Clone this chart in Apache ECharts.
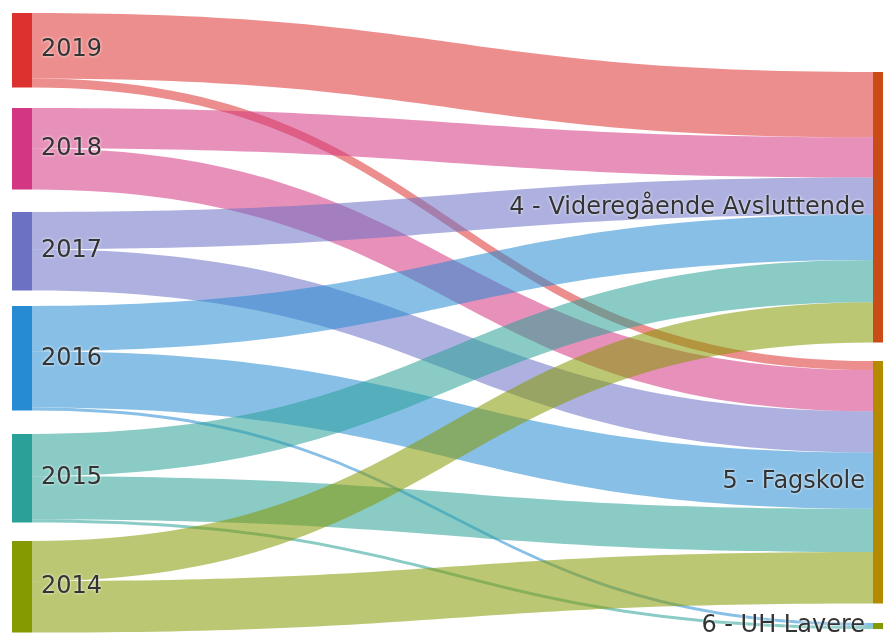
<!DOCTYPE html>
<html>
<head>
<meta charset="utf-8">
<style>
  html, body { margin: 0; padding: 0; background: #fff; }
  #main { width: 883px; height: 634px; }
</style>
<script src="https://cdn.jsdelivr.net/npm/echarts@6/dist/echarts.min.js"></script>
</head>
<body>
<div id="main"></div>
<script>
// years (left) and education levels (right)
var years = ['2019', '2018', '2017', '2016', '2015', '2014'];
var levels = ['4 - Videregående Avsluttende', '5 - Fagskole', '6 - UH Lavere'];

// flow from each year into each level, same order as levels
var flow2019 = [65, 9, 0];
var flow2018 = [40, 41, 0];
var flow2017 = [37, 41, 0];
var flow2016 = [45, 56, 3];
var flow2015 = [42, 43, 3];
var flow2014 = [40, 51, 0];

var yearColors = ['#dc322f', '#d33682', '#6c71c4', '#268bd2', '#2aa198', '#859900'];
var levelColors = ['#cb4b16', '#b58900', '#859900'];

// node tops as a share of the layout height, so the order stays as in the reference
var yearTop = [0, 0.1535, 0.3215, 0.4733, 0.680, 0.853];
var levelTop = [0.0953, 0.5622, 0.9855];

var flows = [flow2019, flow2018, flow2017, flow2016, flow2015, flow2014];

var nodes = [];
years.forEach(function (y, i) {
  nodes.push({ name: y, localY: yearTop[i], itemStyle: { color: yearColors[i] },
    label: { position: 'right', distance: 9 } });
});
levels.forEach(function (l, i) {
  nodes.push({ name: l, localY: levelTop[i], itemStyle: { color: levelColors[i] },
    label: { position: 'left', distance: 8 } });
});

var links = [];
years.forEach(function (y, i) {
  flows[i].forEach(function (v, j) {
    if (v > 0) links.push({ source: y, target: levels[j], value: v });
  });
});

var myChart = echarts.init(document.getElementById('main'));
myChart.setOption({
  animation: false,
  series: [{
    type: 'sankey',
    left: 12,
    right: -10,
    top: 13,
    bottom: 2,
    nodeWidth: 20,
    nodeGap: 20,
    layoutIterations: 0,
    draggable: false,
    emphasis: { disabled: true },
    data: nodes,
    links: links,
    lineStyle: { color: 'source', opacity: 0.55, curveness: 0.5 },
    itemStyle: { borderWidth: 0 },
    label: {
      fontFamily: 'DejaVu Sans',
      fontSize: 24,
      color: '#333',
      textShadowColor: '#fff',
      textShadowBlur: 3
    }
  }]
});
</script>
</body>
</html>
